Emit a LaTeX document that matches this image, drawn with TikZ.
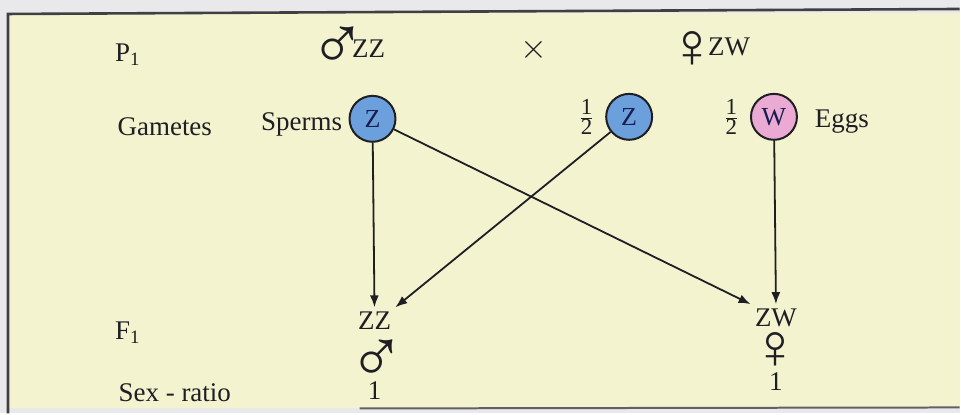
\documentclass[tikz,border=0pt]{standalone}
\usepackage{fontspec}
\setmainfont{Liberation Serif}
\newfontfamily\symfont{Liberation Serif}
\usetikzlibrary{arrows.meta, positioning}
\definecolor{pagegray}{RGB}{233,233,236}
\definecolor{boxcream}{RGB}{244,243,208}
\definecolor{spermblue}{RGB}{108,160,220}
\definecolor{eggpink}{RGB}{234,170,212}
\definecolor{inkdark}{RGB}{30,30,35}
\definecolor{inknavy}{RGB}{25,30,80}
\newcommand{\malesym}{{\symfont\fontsize{38}{38}\selectfont ♂}}
\newcommand{\femalesym}{{\symfont\fontsize{32}{32}\selectfont ♀}}

\begin{document}
\begin{tikzpicture}[
    x=0.5pt, y=-0.5pt,
    txt/.style={font=\fontsize{13.5}{15}\selectfont, text=inkdark, inner sep=2pt},
    sym/.style={text=inkdark, inner sep=0pt, anchor=base},
    gamete/.style={circle, draw=inkdark, line width=1pt, minimum size=23pt, inner sep=0pt, font=\fontsize{13}{14}\selectfont, text=inknavy},
    half/.style={font=\fontsize{11.5}{12}\selectfont, text=inkdark, inner sep=1pt},
    arrow/.style={-{Latex[length=6pt,width=4.5pt]}, line width=0.9pt, draw=inkdark}
]
    % Page and frame
    \fill[pagegray] (0,0) rectangle (961,414);
    \fill[boxcream] (8,13) rectangle (961,409);
    \draw[inkdark!85, line width=1.3pt] (961,9) -- (8,14) -- (8,414);
    \draw[inkdark!70, line width=1pt] (360,409) -- (961,408);

    % Parents
    \node[txt] (p1) at (128,55) {P\textsubscript{1}};
    \node[sym] (dadsym) at (338,70) {\malesym};
    \node[txt, anchor=base, inner sep=0pt] (dad) at (369,58) {ZZ};
    \node[txt, font=\fontsize{18}{18}\selectfont] (cross) at (535,50) {$\times$};
    \node[sym] (mumsym) at (693,68) {\femalesym};
    \node[txt, anchor=base, inner sep=0pt] (mum) at (730,56) {ZW};

    % Gametes
    \node[txt] (gametes) at (165,127) {Gametes};
    \node[gamete, fill=spermblue] (zA) at (373,119) {Z};
    \node[gamete, fill=spermblue] (zB) at (630,117) {Z};
    \node[gamete, fill=eggpink] (wC) at (775,117) {W};
    \node[txt] (sperms) at (302,125) {Sperms};
    \node[half, left=4pt of zB] (halfB) {$\frac{\mbox{1}}{\mbox{2}}$};
    \node[half, left=4pt of wC] (halfC) {$\frac{\mbox{1}}{\mbox{2}}$};
    \node[txt] (eggs) at (843,122) {Eggs};

    % Offspring
    \node[txt] (f1) at (128,333) {F\textsubscript{1}};
    \node[txt] (zz) at (375,321) {ZZ};
    \node[txt] (zw) at (777,318) {ZW};
    \node[sym] (sonsym) at (377,383) {\malesym};
    \node[sym] (daughtersym) at (777,369) {\femalesym};
    \node[txt] (sonratio) at (375,391) {1};
    \node[txt] (daughterratio) at (777,382) {1};
    \node[txt] (ratio) at (175,393) {Sex - ratio};

    % Crosses
    \draw[arrow] (zA) -- (zz.north);
    \draw[arrow] (zA) -- (zw.north west);
    \draw[arrow] (zB) -- (zz.north east);
    \draw[arrow] (wC) -- (zw.north);
\end{tikzpicture}
\end{document}
